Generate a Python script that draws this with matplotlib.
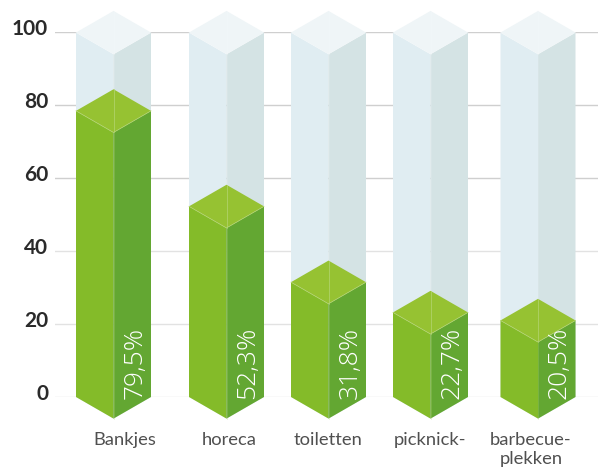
import matplotlib
matplotlib.use("Agg")
import matplotlib.pyplot as plt
from matplotlib.patches import Polygon
from matplotlib.transforms import ScaledTranslation

categories = ["Bankjes", "horeca", "toiletten", "picknick-", "barbecue-\nplekken"]
value_labels = ["79,5%", "52,3%", "31,8%", "22,7%", "20,5%"]
bar_heights = [78.5, 52.3, 31.5, 23.2, 21.0]
ghost_height = 100
y_ticks = [0, 20, 40, 60, 80, 100]

W, H = 598, 470
PX_PER_UNIT = 3.645
centres = [113.5, 226.5, 328.5, 430.5, 538.0]
label_x = [124.5, 229, 328, 430, 531]
HALF = 37.5
DEPTH = 21.6 / PX_PER_UNIT

fig = plt.figure(figsize=(W / 100, H / 100), dpi=100)
ax = fig.add_axes([55 / W, (H - 397) / H, (W - 55) / W, 364.5 / H])
ax.set_xlim(55, W)
ax.set_ylim(0, 100)
for s in ax.spines.values():
    s.set_visible(False)

ax.set_yticks(y_ticks)
ax.set_yticklabels([str(t) for t in y_ticks], family="Lato", fontweight="bold", fontsize=15, color="#2a2a2a")
ax.tick_params(axis="y", length=0, pad=5)
shift = ScaledTranslation(0, 5.5 / 100, fig.dpi_scale_trans)
for lbl in ax.get_yticklabels():
    lbl.set_transform(lbl.get_transform() + shift)
ax.set_xticks(label_x)
ax.set_xticklabels(categories, family="Lato", fontsize=13.2, color="#505050", linespacing=1.28)
ax.tick_params(axis="x", length=0, pad=25)
for t in y_ticks:
    ax.axhline(t, color="#cfcfcf" if t >= 60 else "#e2e2e2", lw=1.0, zorder=1)


def block(cx, v, left, right, top, edge, edge_alpha, zorder):
    l, r = cx - HALF, cx + HALF
    ax.add_patch(Polygon([(l, 0), (cx, -DEPTH), (cx, v - DEPTH), (l, v)], fc=left, ec="none", zorder=zorder, clip_on=False))
    ax.add_patch(Polygon([(cx, -DEPTH), (r, 0), (r, v), (cx, v - DEPTH)], fc=right, ec="none", zorder=zorder, clip_on=False))
    ax.add_patch(Polygon([(l, v), (cx, v + DEPTH), (r, v), (cx, v - DEPTH)], fc=top, ec="none", zorder=zorder, clip_on=False))
    ax.plot([l, cx, r], [v, v - DEPTH, v], color=edge, lw=0.5, alpha=edge_alpha, zorder=zorder + 0.1, clip_on=False)
    ax.plot([cx, cx], [v - DEPTH, v + DEPTH], color=edge, lw=0.5, alpha=edge_alpha, zorder=zorder + 0.1, clip_on=False)
    ax.plot([cx, cx], [-DEPTH, v - DEPTH], color=edge, lw=0.4, alpha=edge_alpha * 0.5, zorder=zorder + 0.1, clip_on=False)


for cx, h, lab in zip(centres, bar_heights, value_labels):
    block(cx, ghost_height, "#e0edf2", "#d4e3e4", "#eff5f7", "#f4f8fa", 0.5, 2)
    block(cx, h, "#84bb29", "#63a732", "#96c232", "#b5d574", 1.0, 3)
    ax.text(cx + 21.5, -0.5, lab, rotation=90, ha="center", va="bottom", family="Open Sans", fontweight="light",
            fontsize=19, color="white", zorder=5, clip_on=False)

fig.savefig("out.png", dpi=100)
